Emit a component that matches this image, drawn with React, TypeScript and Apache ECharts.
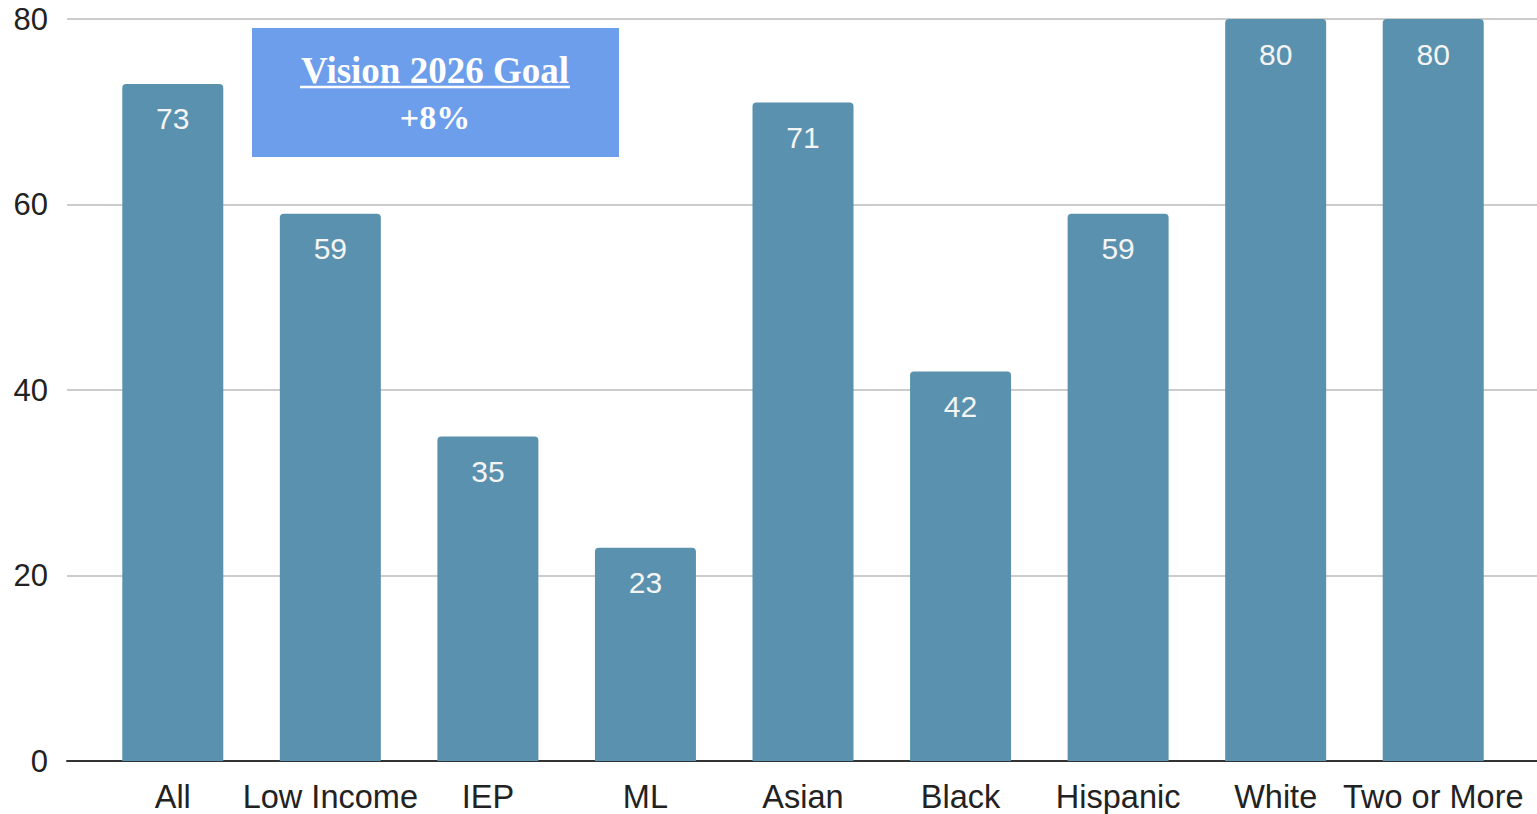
import React, { useEffect, useRef } from "react";
import * as echarts from "echarts";

const categories = ["All", "Low Income", "IEP", "ML", "Asian", "Black", "Hispanic", "White", "Two or More"];
const values = [73, 59, 35, 23, 71, 42, 59, 80, 80];
const yTicks = [0, 20, 40, 60, 80];
const goalTitle = "Vision 2026 Goal";
const goalValue = "+8%";

export default function App() {
  const ref = useRef<HTMLDivElement>(null);
  useEffect(() => {
    if (!ref.current) return;
    const chart = echarts.init(ref.current, undefined, { renderer: "svg" });
    const font = "Liberation Sans, Arial, sans-serif";
    chart.setOption({
      animation: false,
      backgroundColor: "#ffffff",
      grid: [
        { left: 67, right: 0, top: 19, bottom: 53 },
        { left: 94, right: 25, top: 19, bottom: 53 },
      ],
      xAxis: [
        {
          gridIndex: 0,
          type: "value",
          min: 0,
          max: 1,
          axisLine: { show: true, lineStyle: { color: "#333333", width: 2 } },
          axisTick: { show: false },
          axisLabel: { show: false },
          splitLine: { show: false },
        },
        {
          gridIndex: 1,
          type: "category",
          data: categories,
          axisLine: { show: false },
          axisTick: { show: false },
          axisLabel: { color: "#222222", fontSize: 32.5, fontFamily: font, margin: 19, interval: 0 },
        },
      ],
      yAxis: [
        {
          gridIndex: 0,
          type: "value",
          min: yTicks[0],
          max: yTicks[yTicks.length - 1],
          interval: 20,
          axisLine: { show: false },
          axisTick: { show: false },
          axisLabel: { color: "#222222", fontSize: 31, fontFamily: font, margin: 19 },
          splitLine: { lineStyle: { color: "#cccccc", width: 2 } },
        },
        {
          gridIndex: 1,
          type: "value",
          min: 0,
          max: 80,
          interval: 20,
          show: false,
          splitLine: { show: false },
        },
      ],
      series: [
        {
          type: "bar",
          xAxisIndex: 1,
          yAxisIndex: 1,
          data: values,
          barWidth: 101,
          itemStyle: { color: "#5a91ae", borderRadius: [4, 4, 0, 0] },
          label: {
            show: true,
            position: "insideTop",
            distance: 20,
            color: "#f4f4f4",
            fontSize: 30,
            fontFamily: font,
          },
        },
      ],
      graphic: [
        {
          type: "rect",
          shape: { x: 252, y: 28, width: 367, height: 129 },
          style: { fill: "#6d9eeb" },
          z: 10,
        },
        {
          type: "text",
          x: 435,
          y: 70,
          style: {
            text: goalTitle,
            fill: "#ffffff",
            font: "bold 37px 'Liberation Serif', 'Times New Roman', serif",
            textAlign: "center",
            textVerticalAlign: "middle",
          },
          z: 11,
        },
        {
          type: "line",
          shape: { x1: 300, y1: 87, x2: 570, y2: 87 },
          style: { stroke: "#ffffff", lineWidth: 2.5 },
          z: 11,
        },
        {
          type: "text",
          x: 435,
          y: 117,
          style: {
            text: goalValue,
            fill: "#ffffff",
            font: "bold 34px 'Liberation Serif', 'Times New Roman', serif",
            textAlign: "center",
            textVerticalAlign: "middle",
          },
          z: 11,
        },
      ],
    });
    return () => chart.dispose();
  }, []);
  return (
    <div
      ref={ref}
      style={{ position: "absolute", left: 0, top: 0, width: 1537, height: 814 }}
    />
  );
}
